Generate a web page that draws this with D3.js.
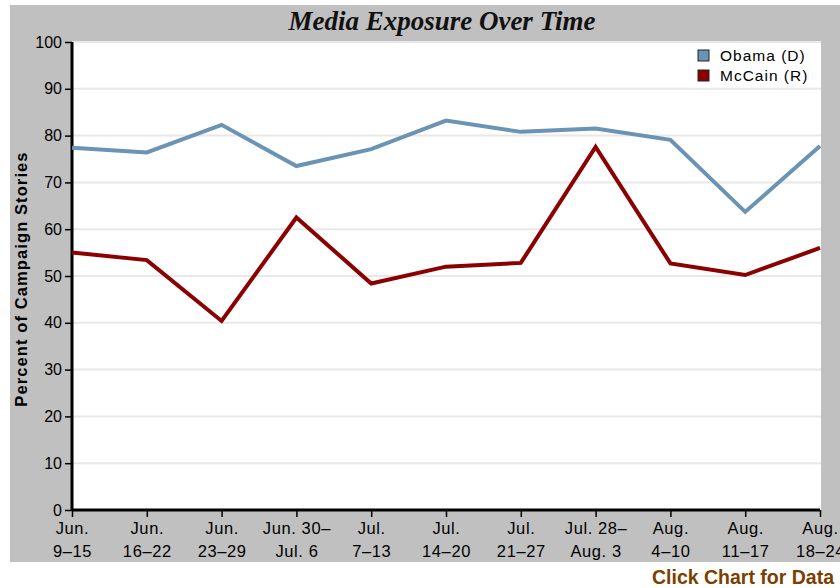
<!DOCTYPE html>
<html><head><meta charset="utf-8">
<script src="https://cdn.jsdelivr.net/npm/d3@7"></script>
<style>body{margin:0;background:#fff}svg{display:block}</style>
</head><body><svg id="c" width="840" height="588"></svg>
<script>
const categories = [["Jun.","9\u201315"],["Jun.","16\u201322"],["Jun.","23\u201329"],["Jun. 30\u2013","Jul. 6"],["Jul.","7\u201313"],["Jul.","14\u201320"],["Jul.","21\u201327"],["Jul. 28\u2013","Aug. 3"],["Aug.","4\u201310"],["Aug.","11\u201317"],["Aug.","18\u201324"]];
const obama = [77.4, 76.4, 82.3, 73.5, 77.1, 83.2, 80.8, 81.5, 79.1, 63.7, 77.8];
const mccain = [55.0, 53.4, 40.4, 62.5, 48.4, 52.0, 52.8, 77.6, 52.7, 50.2, 56.0];
const yTicks = [0,10,20,30,40,50,60,70,80,90,100];
const seriesNames = ["Obama (D)", "McCain (R)"];

const svg = d3.select("#c");
svg.append("rect").attr("x",10).attr("y",5).attr("width",830).attr("height",557).attr("fill","#c0c0c0");

const L=72, R=820, T=42, B=510;
svg.append("rect").attr("x",L).attr("y",41).attr("width",821-L).attr("height",B-41).attr("fill","#fff");

const x = d3.scalePoint().domain(d3.range(categories.length)).range([L,R]);
const y = d3.scaleLinear().domain([0,100]).range([B,T]);

svg.append("g").selectAll("line").data(yTicks.filter(d=>d>0)).join("line")
  .attr("x1",L).attr("x2",821).attr("y1",d=>y(d)).attr("y2",d=>y(d))
  .attr("stroke","#e8e8e8").attr("stroke-width",2);

const font = "'Liberation Sans', Arial, sans-serif";

const ya = svg.append("g").attr("transform",`translate(${L},0)`)
  .call(d3.axisLeft(y).tickValues(yTicks).tickSize(7).tickPadding(3));
ya.select(".domain").attr("stroke","#000").attr("stroke-width",3).attr("d",`M0,${B}V${T}`);
ya.selectAll(".tick line").attr("stroke","#000").attr("stroke-width",1.5);
ya.selectAll(".tick text").attr("font-family",font).attr("font-size",16).attr("fill","#000");

const xa = svg.append("g").attr("transform",`translate(0,${B})`)
  .call(d3.axisBottom(x).tickSize(7).tickFormat(""));
xa.select(".domain").attr("stroke","#000").attr("stroke-width",3).attr("d",`M${L},0H${R}`);
xa.selectAll(".tick line").attr("stroke","#000").attr("stroke-width",1.5);
xa.selectAll(".tick").each(function(i){
  const t = d3.select(this).append("text").attr("font-family",font).attr("font-size",16.5)
    .attr("letter-spacing",0.6).attr("fill","#000").attr("text-anchor","middle");
  t.append("tspan").attr("x",0).attr("y",24).text(categories[i][0]);
  t.append("tspan").attr("x",0).attr("y",47).text(categories[i][1]);
});

const line = d3.line().x((d,i)=>x(i)).y(d=>y(d));
svg.append("path").datum(obama).attr("d",line).attr("fill","none")
  .attr("stroke","#6a93b4").attr("stroke-width",4).attr("stroke-linejoin","miter");
svg.append("path").datum(mccain).attr("d",line).attr("fill","none")
  .attr("stroke","#8b0000").attr("stroke-width",4).attr("stroke-linejoin","miter");

svg.append("text").attr("x",442).attr("y",30).attr("text-anchor","middle")
  .attr("font-family","'Liberation Serif','Times New Roman',serif").attr("font-style","italic")
  .attr("font-weight","bold").attr("font-size",27).attr("fill","#111").text("Media Exposure Over Time");

svg.append("text").attr("transform","translate(27,279) rotate(-90)").attr("text-anchor","middle")
  .attr("font-family",font).attr("font-weight","bold").attr("font-size",16.5).attr("letter-spacing",1.1).attr("fill","#000")
  .text("Percent of Campaign Stories");

const colors = ["#6a93b4","#8b0000"];
const lg = svg.append("g").selectAll("g").data(seriesNames).join("g")
  .attr("transform",(d,i)=>`translate(698,${50+i*20})`);
lg.append("rect").attr("width",11).attr("height",11).attr("fill",(d,i)=>colors[i])
  .attr("stroke","#222").attr("stroke-width",1);
lg.append("text").attr("x",22).attr("y",11).attr("font-family",font).attr("font-size",15.5)
  .attr("letter-spacing",1).attr("fill","#000").text(d=>d);

svg.append("text").attr("x",652).attr("y",584).attr("font-family",font).attr("font-weight","bold")
  .attr("font-size",19.5).attr("fill","#7b3f00").text("Click Chart for Data");
</script></body></html>
